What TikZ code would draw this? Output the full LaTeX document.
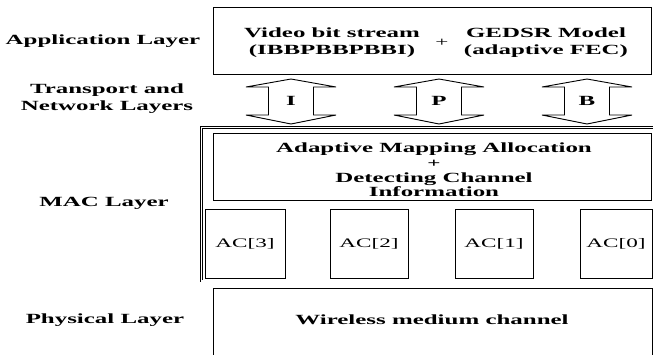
\documentclass[tikz,border=0pt]{standalone}
\usepackage{fontspec}
\setmainfont{Liberation Serif}[FakeStretch=1.78]
\usetikzlibrary{positioning}

\begin{document}
\begin{tikzpicture}[x=1pt, y=-1pt,
		lay/.style={font=\fontsize{14}{17}\selectfont\bfseries, align=center, inner sep=0pt},
		box/.style={draw, line width=0.8pt, inner sep=0pt},
		acbox/.style={box, minimum height=69pt, font=\fontsize{13}{15}\selectfont},
		blk/.style={draw, line width=0.9pt, fill=white}]
	\useasboundingbox (0,0) rectangle (653,354);
	% left column: layer names
	\node[lay] (lapp) at (103,41) {Application Layer};
	\node[lay] (lnet) at (107,98.5) {Transport and\\Network Layers};
	\node[lay] (lmac) at (104,203) {MAC Layer};
	\node[lay] (lphy) at (105,320) {Physical Layer};
	% application layer
	\node[box, minimum width=438pt, minimum height=67pt] (app) at (432,41) {};
	\node[lay] (vid) at (332,43) {Video bit stream\\(IBBPBBPBBI)};
	\node[font=\fontsize{13}{13}\selectfont, inner sep=0pt] (plus) at (442,43) {+};
	\node[lay] (fec) at (546,43) {GEDSR Model\\(adaptive FEC)};
	% block arrows I, P, B
	\foreach \ax/\al in {291/I, 439/P, 587/B} {
		\draw[blk] (\ax,79) -- ++(45,8) -- ++(-22.5,0) -- ++(0,28) -- ++(22.5,0) -- ++(-45,9)
			-- ++(-45,-9) -- ++(22.5,0) -- ++(0,-28) -- ++(-22.5,0) -- cycle;
		\node[lay] (ar\al) at (\ax,101) {\al};
	}
	% MAC layer
	\node[draw, double, line width=0.7pt, double distance=1.2pt, minimum width=460.3pt,
		minimum height=153.3pt, inner sep=0pt] (mac) at (431.85,204.35) {};
	\node[box, minimum width=438pt, minimum height=67pt] (adapt) at (432,166.5) {};
	\node[lay, font=\fontsize{14}{14.7}\selectfont\bfseries] (adtxt) at (434,170)
		{Adaptive Mapping Allocation\\{\fontsize{13}{13}\selectfont +}\\Detecting Channel\\Information};
	\node[acbox, minimum width=80pt] (ac3) at (245,243.5) {AC[3]};
	\node[acbox, minimum width=78pt] (ac2) at (369,243.5) {AC[2]};
	\node[acbox, minimum width=78pt] (ac1) at (494,243.5) {AC[1]};
	\node[acbox, minimum width=72pt] (ac0) at (616,243.5) {AC[0]};
	% physical layer
	\node[box, minimum width=439pt, minimum height=72pt] (phy) at (432.5,324) {};
	\node[lay] (wmc) at (432,320) {Wireless medium channel};
\end{tikzpicture}
\end{document}
